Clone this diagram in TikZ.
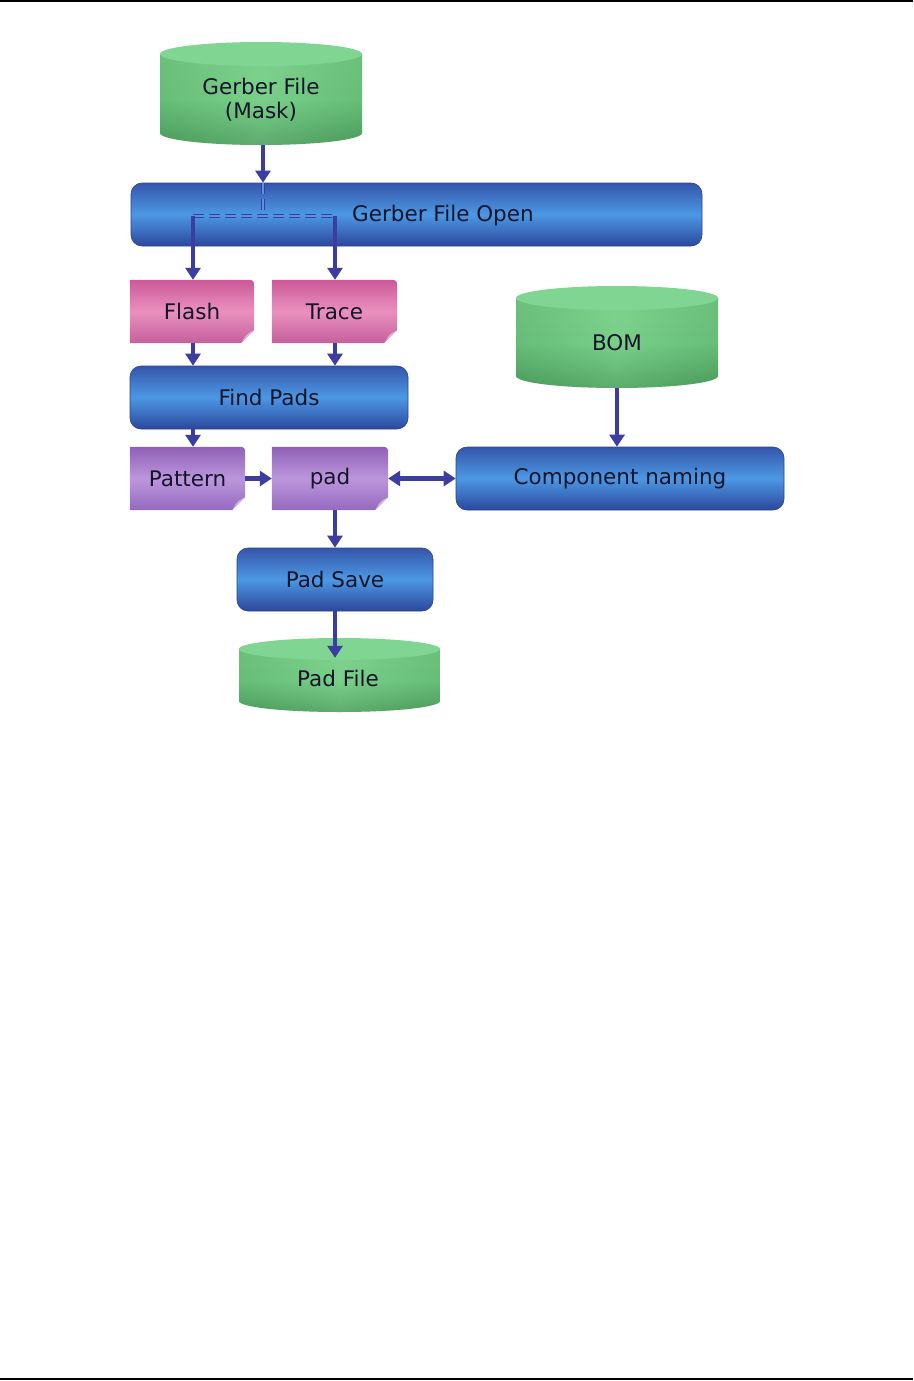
\documentclass[tikz,border=0pt]{standalone}
\usepackage{fontspec}
\setmainfont{DejaVu Sans}
\usetikzlibrary{arrows.meta,backgrounds}
\definecolor{bluetop}{HTML}{3556AA}
\definecolor{bluemid}{HTML}{4C98E4}
\definecolor{bluebot}{HTML}{2C479C}
\definecolor{blueedge}{HTML}{2A4290}
\definecolor{pinktop}{HTML}{CC5A98}
\definecolor{pinkmid}{HTML}{EA90BE}
\definecolor{pinkbot}{HTML}{C4609A}
\definecolor{purptop}{HTML}{9060B8}
\definecolor{purpmid}{HTML}{BC96DC}
\definecolor{purpbot}{HTML}{946AC0}
\definecolor{cyltop}{HTML}{62C874}
\definecolor{cylmid}{HTML}{5CC670}
\definecolor{cylbot}{HTML}{3A9B4E}
\definecolor{cylcap}{HTML}{80D592}
\definecolor{arrowc}{HTML}{3B3DA0}
\definecolor{txt}{HTML}{14142A}
\newcommand\mycyl[5]{%
  \shade[top color=cyltop, bottom color=cylbot, middle color=cylmid]
    (#1,{-(#3+#5)}) -- (#1,{-(#4-#5)})
    arc[start angle=180,end angle=360,x radius={(#2-#1)/2},y radius=#5]
    -- (#2,{-(#3+#5)}) -- cycle;
  \shade[left color=black!40, right color=black!40, middle color=white, opacity=0.18]
    (#1,{-(#3+#5)}) -- (#1,{-(#4-#5)})
    arc[start angle=180,end angle=360,x radius={(#2-#1)/2},y radius=#5]
    -- (#2,{-(#3+#5)}) -- cycle;
  \fill[cylcap] ({(#1+#2)/2},{-(#3+#5)}) ellipse[x radius={(#2-#1)/2}, y radius=#5];
}
\tikzset{
  lbl/.style={font=\fontsize{21.5}{24}\selectfont, text=txt, align=center},
  bluebox/.style={lbl, rectangle, rounded corners=11pt, top color=bluetop,
    bottom color=bluebot, middle color=bluemid, draw=blueedge, line width=0.6pt,
    minimum height=63pt, inner sep=0pt},
  docbox/.style={lbl, rectangle, minimum height=63pt, inner sep=0pt},
  cylnode/.style={lbl, rectangle, inner sep=0pt},
  arr/.style={draw=arrowc, line width=4.5pt, -{Triangle[width=15pt,length=12pt]}},
  darr/.style={draw=arrowc, line width=4.5pt, {Triangle[width=15pt,length=12pt]}-{Triangle[width=15pt,length=12pt]}},
  dash line/.style={draw=arrowc, line width=1.6pt, double=bluemid, double distance=1.6pt, dash pattern=on 11pt off 5pt},
  pinkfill/.style={top color=pinktop, bottom color=pinkbot, middle color=pinkmid},
  purpfill/.style={top color=purptop, bottom color=purpbot, middle color=purpmid},
}
\newcommand\mydoc[2]{% node name, fill style
  \shade[#2] (#1.north west) -- ([xshift=-4pt]#1.north east)
    to[out=0,in=90] ([yshift=-4pt]#1.north east)
    -- ([yshift=13pt]#1.south east) -- ([xshift=-13pt]#1.south east)
    -- (#1.south west) -- cycle;
  \fill[white, opacity=0.45] ([yshift=13pt]#1.south east)
    .. controls ([xshift=-8pt,yshift=9pt]#1.south east) .. ([xshift=-13pt]#1.south east) -- cycle;
}
\begin{document}
\begin{tikzpicture}[x=1pt,y=1pt]
\useasboundingbox (0,0) rectangle (913,-1381);
\draw[line width=2pt] (0,-1) -- (913,-1);
\draw[line width=2pt] (0,-1379) -- (913,-1379);

% cylinders
\mycyl{160}{362}{42}{145}{12}
\mycyl{516}{718}{286}{388}{12}
\mycyl{239}{440}{638}{712}{11}

% nodes
\node[cylnode, minimum width=202pt, minimum height=103pt] (gfm) at (261,-93.5) {};
\node[lbl] (gfmtext) at (261,-100) {Gerber File\\(Mask)};
\node[cylnode, minimum width=202pt, minimum height=102pt] (bom) at (617,-337) {};
\node[lbl] (bomtext) at (617,-343) {BOM};
\node[cylnode, minimum width=201pt, minimum height=74pt] (padfile) at (339.5,-675) {};
\node[lbl] (padfiletext) at (338,-678) {Pad File};

\node[bluebox, minimum width=571pt] (gfo) at (416.5,-214.5) {};
\node[lbl] (gfotext) at (443,-216) {Gerber File Open};
\node[docbox, minimum width=124pt] (flash) at (192,-311.5) {Flash};
\node[docbox, minimum width=125pt] (trace) at (334.5,-311.5) {Trace};
\node[bluebox, minimum width=278pt] (findpads) at (269,-397.5) {Find Pads};
\node[docbox, minimum width=115pt] (pattern) at (187.5,-478.5) {Pattern};
\node[docbox, minimum width=116pt] (pad) at (330,-478.5) {pad};
\node[bluebox, minimum width=328pt] (comp) at (620,-478.5) {Component naming};
\node[bluebox, minimum width=196pt] (padsave) at (335,-579.5) {Pad Save};

\begin{scope}[on background layer]
  \mydoc{flash}{pinkfill}
  \mydoc{trace}{pinkfill}
  \mydoc{pattern}{purpfill}
  \mydoc{pad}{purpfill}
\end{scope}

% dashed split inside Gerber File Open
\coordinate (split) at (263,-216);
\coordinate (jl) at (193,-216);
\coordinate (jr) at (335,-216);
\path[dash line] (gfo.north -| split) -- (split);
\path[dash line] (jl) -- (jr);
\draw[arrowc, line width=4.5pt] (jl) -- (jl |- gfo.south);
\draw[arrowc, line width=4.5pt] (jr) -- (jr |- gfo.south);

% connectors
\draw[arr] (gfm.south -| split) -- (gfo.north -| split);
\draw[arr] (jl |- gfo.south) -- (jl |- flash.north);
\draw[arr] (jr |- gfo.south) -- (jr |- trace.north);
\draw[arr] (flash.south -| jl) -- (findpads.north -| jl);
\draw[arr] (trace.south -| jr) -- (findpads.north -| jr);
\draw[arr] (findpads.south -| jl) -- (pattern.north -| jl);
\draw[arr] (pattern.east) -- (pad.west);
\draw[darr] (pad.east) -- (comp.west);
\draw[arr] (bom.south) -- (bom.south |- comp.north);
\draw[arr] (pad.south -| padsave) -- (padsave.north);
\draw[arr] (padsave.south) -- ([yshift=-20pt]padsave.south |- padfile.north);
\end{tikzpicture}
\end{document}
